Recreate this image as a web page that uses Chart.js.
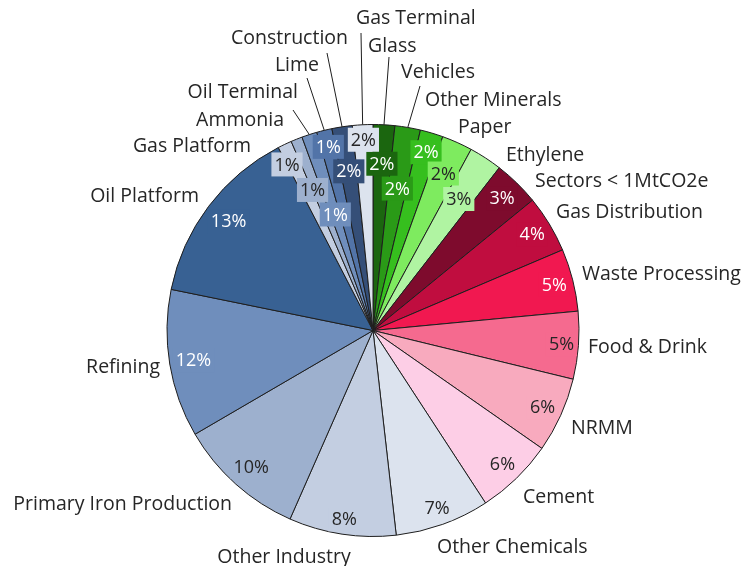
<!DOCTYPE html>
<html lang="en">
<head>
  <meta charset="UTF-8">
  <title>Emissions by sector</title>
  <script src="https://cdn.jsdelivr.net/npm/chart.js"></script>
  <style>
    html, body { margin: 0; padding: 0; background: #fff; }
    #wrap { width: 742px; height: 566px; }
  </style>
</head>
<body>
<div id="wrap"><canvas id="pieChart"></canvas></div>

<script>
  // slices clockwise from 12 o'clock
  var categories = ['Glass', 'Vehicles', 'Other Minerals', 'Paper', 'Ethylene',
    'Sectors < 1MtCO2e', 'Gas Distribution', 'Waste Processing', 'Food & Drink', 'NRMM',
    'Cement', 'Other Chemicals', 'Other Industry', 'Primary Iron Production', 'Refining',
    'Oil Platform', 'Gas Platform', 'Ammonia', 'Oil Terminal', 'Lime', 'Construction', 'Gas Terminal'];

  // slice sizes (share of total, %)
  var shares = [1.7, 2.0, 1.8, 2.4, 2.6,
    3.6, 4.5, 4.9, 5.3, 5.9,
    6.1, 7.4, 8.4, 10.0, 11.6,
    14.2, 1.1, 0.9, 1.2, 1.2, 1.6, 1.6];

  // percentage labels as printed on the chart
  var pctLabels = ['2%', '2%', '2%', '2%', '3%',
    '3%', '4%', '5%', '5%', '6%',
    '6%', '7%', '8%', '10%', '12%',
    '13%', '1%', '1%', '1%', '1%', '2%', '2%'];

  var sliceColors = ['#1b660f', '#2a9a17', '#36bf1e', '#7eeb5f', '#b0f4a2',
    '#7e0b2d', '#c00d3f', '#f11850', '#f56a8f', '#f8aabe',
    '#fdcee6', '#dce3ee', '#c3cee1', '#9db0ce', '#6f8ebc',
    '#386193', '#c3cee1', '#9db0ce', '#6f8ebc', '#5274a8', '#354f78', '#dce3ee'];

  var pctTextColors = ['#fff', '#fff', '#fff', '#262626', '#262626',
    '#fff', '#fff', '#fff', '#262626', '#262626',
    '#262626', '#262626', '#262626', '#262626', '#fff',
    '#fff', '#262626', '#262626', '#fff', '#fff', '#fff', '#262626'];

  // how far in from the rim each percentage label sits (px), and a small turn (deg)
  var pctInset = [39, 62, 20, 34, 49, 21, 20, 19, 17, 20, 20, 17, 15, 23, 24, 25, 19, 53, 84, 17, 45, 15];
  var pctTurn = [0, 0, 0, 0, 0, 0, 0, 0, 0, 0, 0, 0, 0, 0, 0, 0, -2, -1.5, 0, 0, 0, 0];

  // outside category labels: [x, y, align]  (x is the anchored edge)
  var namePos = [
    [368, 46, 'left'], [401, 72, 'left'], [425, 100, 'left'], [458, 127, 'left'], [506, 155, 'left'],
    [535, 181, 'left'], [556, 212, 'left'], [582, 274, 'left'], [588, 347, 'left'], [571, 428, 'left'],
    [523, 497, 'left'], [437, 547, 'left'], [284, 557, 'center'], [232, 504, 'right'], [160, 367, 'right'],
    [199, 196, 'right'], [251, 146, 'right'], [284, 120, 'right'], [298, 92, 'right'], [319, 65, 'right'],
    [348, 38, 'right'], [356, 18, 'left']
  ];

  // leader lines start here and run to the middle of the slice rim
  var leaderFrom = {
    'Glass': [389, 57], 'Vehicles': [420, 86], 'Oil Terminal': [293, 110],
    'Lime': [307, 78], 'Construction': [327, 53], 'Gas Terminal': [361, 33]
  };

  var FONT = '"Open Sans", Lato, sans-serif';

  var labelPlugin = {
    id: 'pieLabels',
    afterDatasetsDraw: function(chart) {
      var ctx = chart.ctx;
      var arcs = chart.getDatasetMeta(0).data;
      ctx.save();

      // leader lines
      ctx.strokeStyle = '#1e1e1e';
      ctx.lineWidth = 1;
      arcs.forEach(function(arc, i) {
        var from = leaderFrom[categories[i]];
        if (!from) return;
        var p = arc.getProps(['x', 'y', 'startAngle', 'endAngle', 'outerRadius'], true);
        var mid = (p.startAngle + p.endAngle) / 2;
        ctx.beginPath();
        ctx.moveTo(from[0], from[1]);
        ctx.lineTo(p.x + Math.cos(mid) * p.outerRadius, p.y + Math.sin(mid) * p.outerRadius);
        ctx.stroke();
      });

      // percentage labels with filled boxes
      ctx.font = '18px ' + FONT;
      ctx.textAlign = 'center';
      ctx.textBaseline = 'middle';
      arcs.forEach(function(arc, i) {
        var p = arc.getProps(['x', 'y', 'startAngle', 'endAngle', 'outerRadius'], true);
        var mid = (p.startAngle + p.endAngle) / 2 + pctTurn[i] * Math.PI / 180;
        var r = p.outerRadius - pctInset[i];
        var lx = p.x + Math.cos(mid) * r;
        var ly = p.y + Math.sin(mid) * r;
        var w = ctx.measureText(pctLabels[i]).width + 6;
        var h = 24;
        ctx.fillStyle = sliceColors[i];
        ctx.fillRect(lx - w / 2, ly - h / 2, w, h);
        ctx.fillStyle = pctTextColors[i];
        ctx.fillText(pctLabels[i], lx, ly + 1);
      });

      // category names
      ctx.font = '19.5px ' + FONT;
      ctx.fillStyle = '#262626';
      categories.forEach(function(name, i) {
        var pos = namePos[i];
        ctx.textAlign = pos[2];
        ctx.fillText(name, pos[0], pos[1]);
      });

      ctx.restore();
    }
  };

  var ctx = document.getElementById('pieChart').getContext('2d');
  var pieChart = new Chart(ctx, {
    type: 'pie',
    data: {
      labels: categories,
      datasets: [{
        data: shares,
        backgroundColor: sliceColors,
        borderColor: '#1e1e1e',
        borderWidth: 1
      }]
    },
    options: {
      responsive: true,
      maintainAspectRatio: false,
      animation: false,
      layout: { padding: { left: 166, right: 162, top: 124, bottom: 29 } },
      plugins: {
        legend: { display: false },
        tooltip: { enabled: false }
      }
    },
    plugins: [labelPlugin]
  });
</script>
</body>
</html>
